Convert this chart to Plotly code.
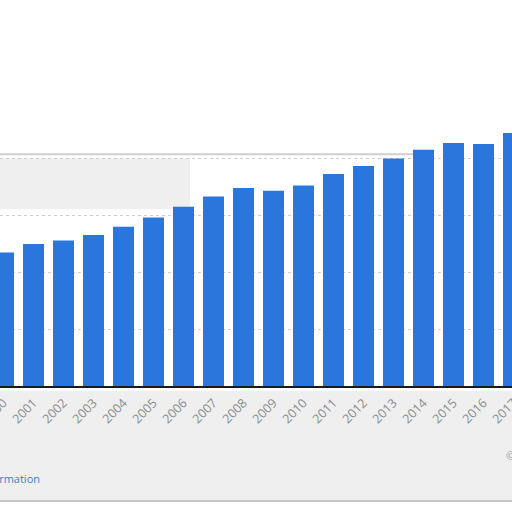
import plotly.graph_objects as go

# values (unit = one gridline step of 50)
years = [str(y) for y in range(2000, 2018)]
values = [117.2, 124.6, 127.7, 132.5, 139.7, 147.9, 157.3, 166.3, 173.7,
          171.3, 176.0, 186.0, 193.0, 199.7, 207.3, 213.2, 212.3, 221.9]
grid_vals = [0, 50, 100, 150, 200]

BAR_COLOR = "#2a76dd"
TICK_COLOR = "#8c8c8c"

# the figure is a bit wider than the 512px window; the overflow is hidden,
# so the last year is cut at the right edge as in the reference
W = 560
PX = 30.0  # pixels per year slot

fig = go.Figure(
    go.Bar(
        x=years, y=values,
        marker=dict(color=BAR_COLOR, line=dict(width=0)),
        hoverinfo="x+y", showlegend=False,
    )
)

# soft grey backdrop under the axis labels (the blurred footer area)
shapes = [
    dict(type="rect", xref="paper", yref="paper", x0=0, x1=1, y0=-0.45, y1=-0.02,
         fillcolor="#efefef", line=dict(width=0), layer="below"),
    dict(type="rect", xref="paper", yref="paper", x0=0, x1=190 / W, y0=0.69, y1=0.89,
         fillcolor="#efefef", line=dict(width=0), layer="below"),
    dict(type="line", xref="paper", yref="paper", x0=0, x1=1, y0=-0.449, y1=-0.449,
         line=dict(color="#c8c8c8", width=2), layer="below"),
    dict(type="line", xref="paper", yref="paper", x0=0, x1=425 / W, y0=0.905, y1=0.905,
         line=dict(color="#cfcfcf", width=2), layer="below"),
]

fig.update_layout(
    width=W, height=512,
    margin=dict(l=0, r=0, t=130, b=126, autoexpand=False),
    paper_bgcolor="white",
    plot_bgcolor="rgba(0,0,0,0)",
    bargap=0.3,
    font=dict(family="Open Sans, DejaVu Sans, sans-serif", size=11, color=TICK_COLOR),
    shapes=shapes,
    annotations=[
        dict(text="Additional Information", xref="paper", yref="paper",
             x=42 / W, y=-0.363, xanchor="right", yanchor="middle",
             showarrow=False, font=dict(size=11, color="#3a7fc1")),
        dict(text="© Statista 2018", xref="paper", yref="paper",
             x=504 / W, y=-0.27, xanchor="left", yanchor="middle",
             showarrow=False, font=dict(size=11, color="#9a9a9a")),
    ],
)
fig.update_xaxes(
    type="category", range=[-0.117, -0.117 + W / PX], automargin=False,
    tickangle=-45, tickfont=dict(size=12.5, color=TICK_COLOR),
    showgrid=False, zeroline=False,
    showline=True, linecolor="#1a1a1a", linewidth=1.5,
    ticks="outside", ticklen=3, tickcolor="rgba(0,0,0,0)", fixedrange=True,
)
fig.update_yaxes(
    range=[0, 224.6], automargin=False,
    tickvals=grid_vals, showticklabels=False,
    showgrid=True, gridcolor="#cfcfcf", griddash="dot", gridwidth=1,
    zeroline=False, fixedrange=True,
)

# drop the default body margin and hide the overflow past 512px
fig.write_html(
    "out.html",
    config={"displayModeBar": False},
    post_script=(
        "document.body.style.margin='0';"
        "document.body.style.overflow='hidden';"
        "document.documentElement.style.overflow='hidden';"
    ),
)
